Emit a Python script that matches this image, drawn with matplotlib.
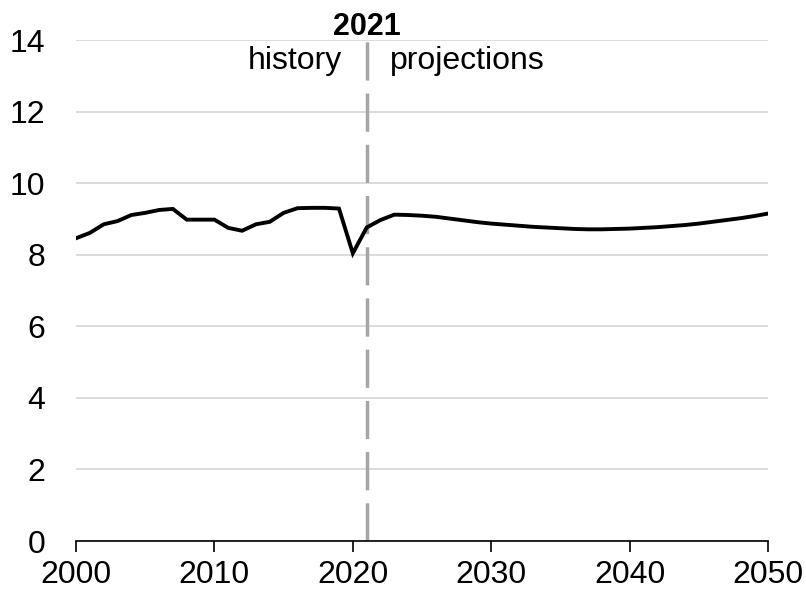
import matplotlib
matplotlib.use("Agg")
import matplotlib.pyplot as plt
from matplotlib import rcParams

rcParams['font.family'] = ['Liberation Sans', 'DejaVu Sans']
rcParams['font.size'] = 23

# history 2000-2021, projections 2021-2050
years = list(range(2000, 2051))
values = [8.46, 8.61, 8.85, 8.94, 9.11, 9.17, 9.25, 9.28, 8.98, 8.98,
          8.98, 8.75, 8.67, 8.85, 8.92, 9.17, 9.30, 9.31, 9.31, 9.29,
          8.04, 8.76, 8.97, 9.12, 9.11, 9.09, 9.06, 9.01, 8.96, 8.91,
          8.87, 8.84, 8.81, 8.78, 8.76, 8.74, 8.72, 8.71, 8.71, 8.72,
          8.73, 8.75, 8.77, 8.80, 8.83, 8.87, 8.92, 8.97, 9.02, 9.08,
          9.15]
split_year = 2021
x_ticks = [2000, 2010, 2020, 2030, 2040, 2050]
y_ticks = [0, 2, 4, 6, 8, 10, 12, 14]


def draw():
    fig = plt.figure(figsize=(8.06, 5.91), dpi=100)
    ax = fig.add_axes([0.0943, 0.0846, 0.8586, 0.8477])

    ax.set_xlim(2000, 2050)
    ax.set_ylim(0, 14)
    ax.set_xticks(x_ticks)
    ax.set_yticks(y_ticks)
    ax.yaxis.grid(True, color='#d9d9d9', linewidth=1.3)
    ax.set_axisbelow(True)

    for s in ['top', 'right', 'left']:
        ax.spines[s].set_visible(False)
    ax.spines['bottom'].set_color('black')
    ax.spines['bottom'].set_linewidth(1.2)
    ax.tick_params(axis='y', length=0, pad=22)
    ax.tick_params(axis='x', length=8, width=1.2, direction='out', pad=6)

    # vertical split line
    ax.axvline(split_year, color='#a6a6a6', linewidth=2.5,
               dashes=(11, 3.75), zorder=2)

    ax.plot(years, values, color='black', linewidth=2.8, zorder=3,
            solid_joinstyle='miter')

    ax.text(split_year, 14.14, str(split_year), ha='center', va='baseline',
            fontweight='bold', fontsize=22)
    ax.text(split_year - 1.8, 13.18, 'history', ha='right', va='baseline')
    ax.text(split_year + 1.7, 13.18, 'projections', ha='left', va='baseline')

    fig.savefig('out.png', dpi=100)


if __name__ == '__main__':
    draw()
